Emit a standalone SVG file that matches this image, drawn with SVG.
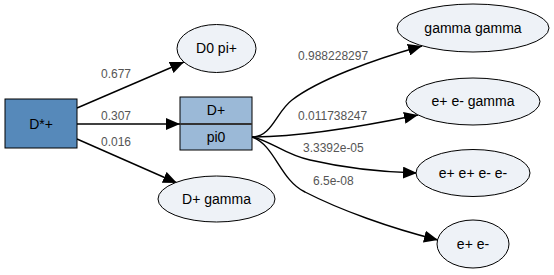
<svg xmlns="http://www.w3.org/2000/svg" width="554" height="275" viewBox="0 0 554 275">
  <style>
    .node text { font-family: "Liberation Sans", Arial, sans-serif; font-size: 14px; fill: #000; text-anchor: middle; }
    .ell { fill: #eef2f7; stroke: #000; stroke-width: 1; }
    .edge { fill: none; stroke: #000; stroke-width: 1.4; marker-end: url(#arr); }
    .lbl { font-family: "Liberation Sans", Arial, sans-serif; font-size: 12px; fill: #555; }
  </style>
  <defs>
    <marker id="arr" viewBox="0 0 14 12" refX="14" refY="6" markerWidth="14" markerHeight="12" markerUnits="userSpaceOnUse" orient="auto">
      <path d="M0,0 L14,6 L0,12 z" fill="#000"/>
    </marker>
  </defs>
  <rect width="554" height="275" fill="#fff"/>

  <g id="edges">
    <path class="edge" d="M77,108 L184,62"/>
    <path class="edge" d="M77,124 L180,124" stroke="#333" stroke-width="2"/>
    <path class="edge" d="M77,139 L177,183"/>
    <path class="edge" d="M252,137 C272,137 276,112 292,100 C318,80 372,60 422,46"/>
    <path class="edge" d="M252,137 C290,137 345,130 418,115"/>
    <path class="edge" d="M252,137 C270,140 285,155 310,160 C340,167 380,172 417,173"/>
    <path class="edge" d="M252,137 C275,145 280,180 305,192 C340,210 390,228 438,240"/>
    <text class="lbl" x="101" y="78">0.677</text>
    <text class="lbl" x="101" y="120">0.307</text>
    <text class="lbl" x="101" y="146">0.016</text>
    <text class="lbl" x="298" y="60">0.988228297</text>
    <text class="lbl" x="298" y="120">0.011738247</text>
    <text class="lbl" x="303" y="152">3.3392e-05</text>
    <text class="lbl" x="313" y="185">6.5e-08</text>
  </g>

  <g id="Dstar" class="node">
    <rect x="5" y="99" width="72" height="49" fill="#5689ba" stroke="#000" stroke-width="1"/>
    <text x="41" y="129">D*+</text>
  </g>
  <g id="Dplus_pi0" class="node">
    <rect x="180" y="97" width="72" height="53" fill="#9bb9d7" stroke="#000" stroke-width="1"/>
    <line x1="180" y1="124" x2="252" y2="124" stroke="#333" stroke-width="2"/>
    <text x="216" y="115">D+</text>
    <text x="216" y="142">pi0</text>
  </g>
  <g id="D0_pi" class="node">
    <ellipse class="ell" cx="216.5" cy="48.5" rx="39.5" ry="24"/>
    <text x="216.5" y="53">D0 pi+</text>
  </g>
  <g id="Dplus_gamma" class="node">
    <ellipse class="ell" cx="216.5" cy="199" rx="58.5" ry="23"/>
    <text x="216.5" y="204">D+ gamma</text>
  </g>
  <g id="gamma_gamma" class="node">
    <ellipse class="ell" cx="473" cy="28" rx="76" ry="24"/>
    <text x="473" y="33">gamma gamma</text>
  </g>
  <g id="ee_gamma" class="node">
    <ellipse class="ell" cx="473" cy="101.5" rx="67" ry="23.5"/>
    <text x="473" y="106">e+ e- gamma</text>
  </g>
  <g id="eeee" class="node">
    <ellipse class="ell" cx="473" cy="173" rx="57" ry="23.5"/>
    <text x="473" y="178">e+ e+ e- e-</text>
  </g>
  <g id="ee" class="node">
    <ellipse class="ell" cx="473" cy="244" rx="36" ry="24"/>
    <text x="473" y="249">e+ e-</text>
  </g>
</svg>
